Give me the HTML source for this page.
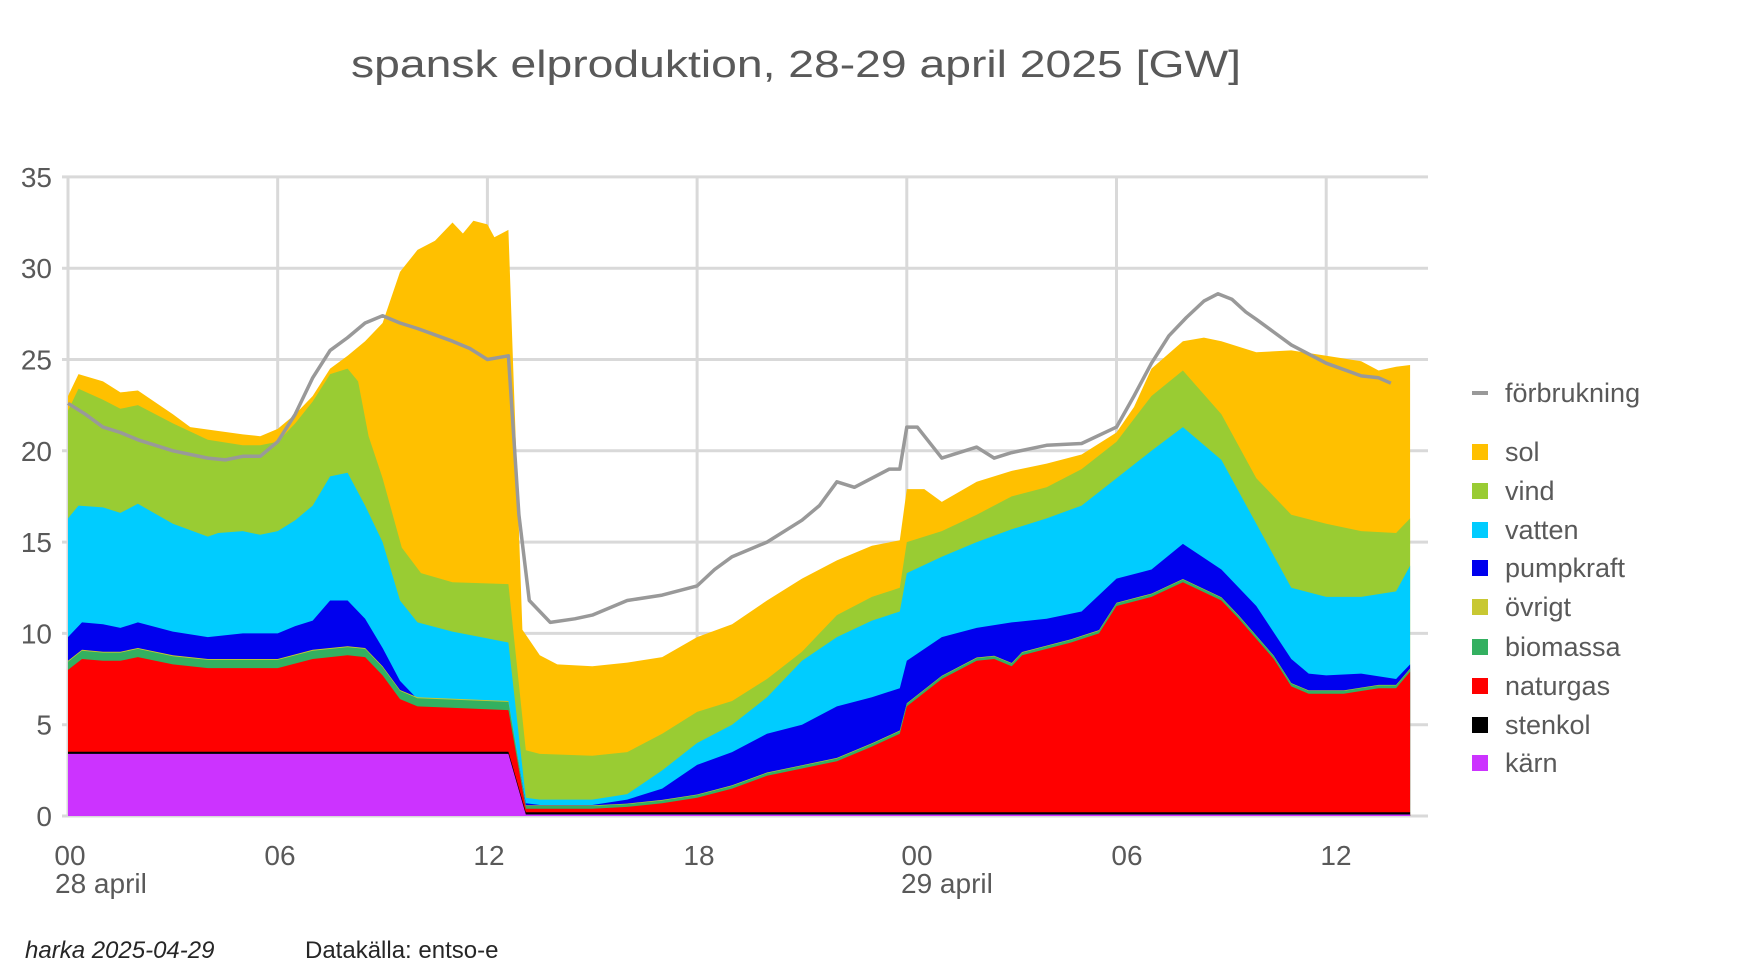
<!DOCTYPE html>
<html><head><meta charset="utf-8"><style>
html,body{margin:0;padding:0;background:#fff;}
svg{display:block;font-family:"Liberation Sans",sans-serif;}
</style></head><body>
<svg id="s" width="1751" height="970" xmlns="http://www.w3.org/2000/svg">
<rect width="1751" height="970" fill="#fff"/>
<text x="796" y="77" text-anchor="middle" font-size="38" fill="#595959" textLength="890" lengthAdjust="spacingAndGlyphs">spansk elproduktion, 28-29 april 2025  [GW]</text>
<g id="grid" stroke="#d9d9d9" stroke-width="3"></g>
<g id="areas"></g>
<g id="yl" font-size="28" fill="#595959" text-anchor="end"></g>
<g font-size="28" fill="#595959">
<text x="70" y="865" text-anchor="middle">00</text>
<text x="280" y="865" text-anchor="middle">06</text>
<text x="489" y="865" text-anchor="middle">12</text>
<text x="699" y="865" text-anchor="middle">18</text>
<text x="917" y="865" text-anchor="middle">00</text>
<text x="1127" y="865" text-anchor="middle">06</text>
<text x="1336" y="865" text-anchor="middle">12</text>
<text x="55" y="893">28 april</text>
<text x="901" y="893">29 april</text>
</g>
<g font-size="27" fill="#595959" id="leg"></g>
<text x="25" y="958" font-size="24" font-style="italic" fill="#262626">harka 2025-04-29</text>
<text x="305" y="958" font-size="24" fill="#262626">Datakälla: entso-e</text>
</svg>
<script>
var NS="http://www.w3.org/2000/svg";
function X(t){return 68+t*34.95;}
function Y(v){return 816-v*18.26;}
function el(p,n,a){var e=document.createElementNS(NS,n);for(var k in a)e.setAttribute(k,a[k]);p.appendChild(e);return e;}
var grid=document.getElementById('grid'),yl=document.getElementById('yl');
for(var v=0;v<=35;v+=5){el(grid,'line',{x1:62,x2:1428,y1:Y(v),y2:Y(v)});var t=el(yl,'text',{x:52,y:Y(v)+10});t.textContent=v;}
for(var h=0;h<=36;h+=6){el(grid,'line',{x1:X(h),x2:X(h),y1:Y(35),y2:Y(0)});}
function P(s){var a=s.trim().split(/\s+/).map(function(p){var q=p.split(':');return [+q[0],+q[1]];});return a;}
function interp(a,t){if(t<=a[0][0])return a[0][1];for(var i=1;i<a.length;i++){if(t<=a[i][0]){var f=(t-a[i-1][0])/(a[i][0]-a[i-1][0]);return a[i-1][1]+f*(a[i][1]-a[i-1][1]);}}return a[a.length-1][1];}
var gas=P("0:8.0 0.4:8.6 1:8.5 1.5:8.5 2:8.7 3:8.3 4:8.1 5:8.1 6:8.1 7:8.6 8:8.8 8.5:8.7 9:7.7 9.5:6.4 10:6.0 12.6:5.8 13.1:0.4 15:0.4 16:0.5 17:0.7 18:1.0 19:1.5 20:2.2 21:2.6 22:3.0 23:3.8 23.8:4.5 24:6.0 25:7.5 26:8.5 26.5:8.6 27:8.2 27.3:8.8 28.7:9.5 29.5:10.0 30:11.5 31:12.0 31.9:12.8 33:11.8 33.5:10.8 34.5:8.6 35:7.1 35.5:6.7 36.5:6.7 37.5:7.0 38:7.0 38.4:7.9");
var bio=gas.map(function(p){return [p[0],p[1]+(p[0]<13?0.45:0.15)];});
var ovr=gas.map(function(p){return [p[0],p[1]+(p[0]<13?0.5:0.18)];});
var pump=P("0:9.8 0.4:10.6 1:10.5 1.5:10.3 2:10.6 3:10.1 4:9.8 5:10.0 6:10.0 6.5:10.4 7:10.7 7.5:11.8 8:11.8 8.5:10.8 9:9.2 9.5:7.4 10:6.4 10.5:6.2 12.6:6.1 13.1:0.7 13.5:0.6 15:0.6 16:0.9 17:1.5 18:2.8 19:3.5 20:4.5 21:5.0 22:6.0 23:6.5 23.8:7.0 24:8.5 25:9.8 26:10.3 27:10.6 28:10.8 29:11.2 30:13.0 31:13.5 31.9:14.9 33:13.5 34:11.5 35:8.6 35.5:7.8 36:7.7 37:7.8 38:7.5 38.4:8.3");
var vat=P("0:16.3 0.3:17.0 1:16.9 1.5:16.6 2:17.1 3:16.0 4:15.3 4.3:15.5 5:15.6 5.5:15.4 6:15.6 6.5:16.2 7:17.0 7.5:18.6 8:18.8 8.5:17.0 9:15.0 9.5:11.8 10:10.6 11:10.1 12.6:9.5 13.1:1.0 13.5:0.9 15:0.9 16:1.2 17:2.5 18:4.0 19:5.0 20:6.5 21:8.5 22:9.8 23:10.7 23.8:11.2 24:13.3 25:14.2 26:15.0 27:15.7 28:16.3 29:17.0 30:18.5 31:20.0 31.9:21.3 33:19.5 34:16.0 35:12.5 36:12.0 37:12.0 38:12.3 38.4:13.7");
var vind=P("0:22.2 0.3:23.4 1:22.8 1.5:22.3 2:22.5 3:21.5 4:20.6 5:20.3 5.5:20.3 6:20.5 6.5:21.5 7:22.7 7.5:24.2 8:24.5 8.3:23.8 8.6:20.8 9:18.5 9.55:14.7 10.1:13.3 11:12.8 12.6:12.7 13.1:3.6 13.5:3.4 15:3.3 16:3.5 17:4.5 18:5.7 19:6.3 20:7.5 21:9.0 22:11.0 23:12.0 23.8:12.5 24:15.0 25:15.6 26:16.5 27:17.5 28:18.0 29:19.0 30:20.5 31:23.0 31.9:24.4 33:22.0 34:18.5 35:16.5 36:16.0 37:15.6 38:15.5 38.4:16.3");
var sol=P("0:23.0 0.3:24.2 1:23.8 1.5:23.2 2:23.3 3:22.0 3.5:21.3 5:20.9 5.5:20.8 6:21.2 6.5:22.0 7:23.0 7.5:24.5 8:25.2 8.5:26.0 9:27.0 9.5:29.8 10:31.0 10.5:31.5 11:32.5 11.3:31.9 11.6:32.6 12:32.4 12.2:31.7 12.6:32.1 13.0:10.2 13.5:8.8 14:8.3 15:8.2 16:8.4 17:8.7 18:9.8 19:10.5 20:11.8 21:13.0 22:14.0 23:14.8 23.8:15.1 24:17.9 24.5:17.9 25:17.2 26:18.3 27:18.9 28:19.3 29:19.8 30:21.0 30.5:22.4 31:24.5 31.9:26.0 32.5:26.2 33:26.0 34:25.4 35:25.5 36:25.2 37:24.9 37.5:24.4 38:24.6 38.4:24.7");
var karn=P("0:3.4 12.6:3.4 13.1:0.08 38.4:0.08");
var sten=karn.map(function(p){return [p[0],p[1]+0.12];});
var line=P("0:22.6 0.5:22.0 1:21.3 1.5:21.0 2:20.6 3:20.0 4:19.6 4.5:19.5 5:19.7 5.5:19.7 6:20.5 6.5:22.0 7:24.0 7.5:25.5 8:26.2 8.5:27.0 9:27.4 9.5:27.0 10:26.7 11:26.0 11.5:25.6 12:25.0 12.6:25.2 12.9:16.5 13.2:11.8 13.8:10.6 14.5:10.8 15:11.0 16:11.8 17:12.1 18:12.6 18.5:13.5 19:14.2 20:15.0 21:16.2 21.5:17.0 22:18.3 22.5:18.0 23:18.5 23.5:19.0 23.8:19.0 24.0:21.3 24.3:21.3 25:19.6 26:20.2 26.5:19.6 27:19.9 28:20.3 29:20.4 30:21.3 30.5:23.0 31:24.8 31.5:26.3 32:27.3 32.5:28.2 32.9:28.6 33.3:28.3 33.7:27.6 34:27.2 34.5:26.5 35:25.8 36:24.8 37:24.1 37.5:24.0 37.85:23.7");
var areas=document.getElementById('areas');
function area(a,c){var d="M"+X(a[0][0])+","+Y(0);a.forEach(function(p){d+=" L"+X(p[0]).toFixed(1)+","+Y(p[1]).toFixed(1);});d+=" L"+X(a[a.length-1][0])+","+Y(0)+"Z";el(areas,'path',{d:d,fill:c});}
area(sol,"#FFC000");area(vind,"#99CC33");area(vat,"#00CCFF");area(pump,"#0000EE");area(ovr,"#C8C832");area(bio,"#33B060");area(gas,"#FF0000");area(sten,"#000000");area(karn,"#CC33FF");
var d="";line.forEach(function(p,i){d+=(i?" L":"M")+X(p[0]).toFixed(1)+","+Y(p[1]).toFixed(1);});
el(areas,'path',{d:d,fill:"none",stroke:"#999999","stroke-width":3.5,"stroke-linejoin":"round"});
var leg=document.getElementById('leg');
el(leg,'rect',{x:1472,y:391,width:16,height:4,fill:"#999"});
var t=el(leg,'text',{x:1505,y:402});t.textContent="förbrukning";
var L=[["sol","#FFC000",452],["vind","#99CC33",491],["vatten","#00CCFF",530],["pumpkraft","#0000EE",568],["övrigt","#C8C832",607],["biomassa","#33B060",647],["naturgas","#FF0000",686],["stenkol","#000000",725],["kärn","#CC33FF",763]];
L.forEach(function(l){el(leg,'rect',{x:1472,y:l[2]-8,width:16,height:16,fill:l[1]});var t=el(leg,'text',{x:1505,y:l[2]+9});t.textContent=l[0];});
</script>
</body></html>
